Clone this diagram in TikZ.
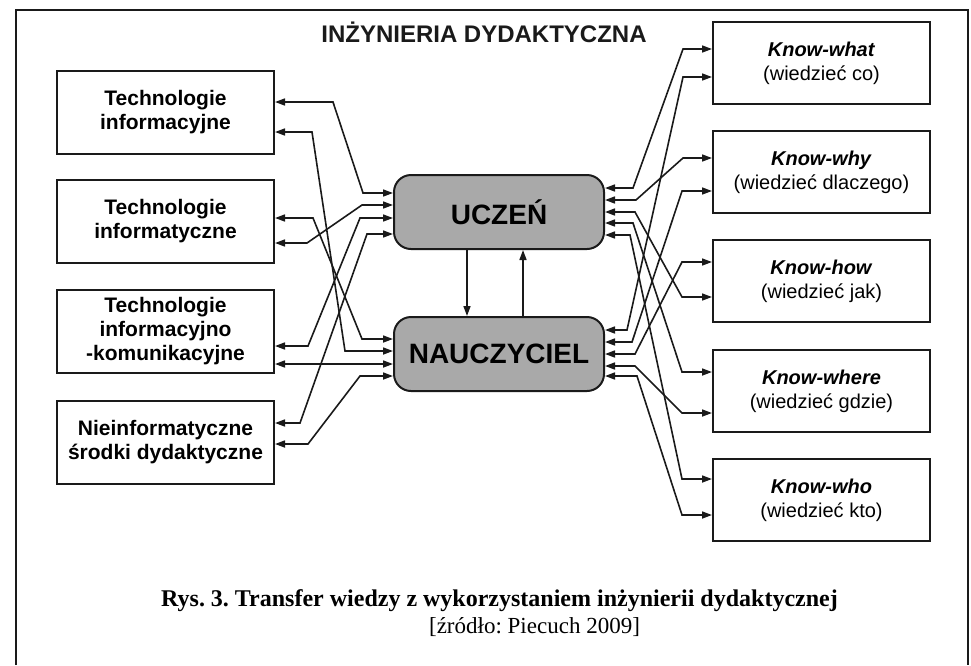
\documentclass[tikz,border=0pt]{standalone}
\usepackage{fontspec}
\setmainfont{Liberation Serif}
\setsansfont{Liberation Sans}
\usetikzlibrary{arrows.meta}
\definecolor{boxgray}{HTML}{A9A9A9}
\definecolor{inkblack}{HTML}{1A1A1A}
\frenchspacing

\begin{document}
\begin{tikzpicture}[x=1pt, y=-1pt,
  >={Triangle[length=10pt, width=7pt]},
  srcbox/.style={draw=inkblack, line width=2pt, minimum width=217pt, minimum height=83pt, align=center, font=\sffamily\bfseries\fontsize{21}{24}\selectfont},
  knowbox/.style={draw=inkblack, line width=2pt, minimum width=217pt, minimum height=82pt, align=center, font=\sffamily\fontsize{20}{24}\selectfont},
  actor/.style={draw=inkblack, line width=2pt, fill=boxgray, rounded corners=17pt, minimum width=210pt, minimum height=74pt, font=\sffamily\bfseries\fontsize{28}{30}\selectfont},
  link/.style={draw=inkblack, line width=1.6pt, <->},
  flow/.style={draw=inkblack, line width=1.6pt, ->}]

  \useasboundingbox (0,0) rectangle (971,665);

  % Outer frame (its bottom edge lies below the page)
  \draw[inkblack, line width=2.2pt] (16,665) -- (16,10) -- (968,10) -- (968,665);

  \node[font=\sffamily\bfseries\fontsize{24}{28}\selectfont, anchor=base, text=inkblack] (title) at (484,42) {INŻYNIERIA DYDAKTYCZNA};

  % Left column: resources
  \node[srcbox] (tinf) at (165.5,112.5) {Technologie\\informacyjne};
  \node[srcbox] (tinm) at (165.5,221.5) {Technologie\\informatyczne};
  \node[srcbox] (tik)  at (165.5,331.5) {Technologie\\informacyjno\\-komunikacyjne};
  \node[srcbox] (nonit) at (165.5,442) {Nieinformatyczne\\środki dydaktyczne};

  % Centre: the two actors
  \node[actor] (uczen) at (499,212) {UCZEŃ};
  \node[actor] (naucz) at (499,354) {NAUCZYCIEL};

  % Right column: kinds of knowledge
  \node[knowbox] (kwhat)  at (821.5,63)  {\textbf{\textit{Know-what}}\\(wiedzieć co)};
  \node[knowbox] (kwhy)   at (821.5,172) {\textbf{\textit{Know-why}}\\(wiedzieć dlaczego)};
  \node[knowbox] (khow)   at (821.5,281) {\textbf{\textit{Know-how}}\\(wiedzieć jak)};
  \node[knowbox] (kwhere) at (821.5,391) {\textbf{\textit{Know-where}}\\(wiedzieć gdzie)};
  \node[knowbox] (kwho)   at (821.5,500) {\textbf{\textit{Know-who}}\\(wiedzieć kto)};

  % Between the actors
  \draw[flow] (uczen.south -| 467,0) -- (naucz.north -| 467,0);
  \draw[flow] (naucz.north -| 523,0) -- (uczen.south -| 523,0);

  % Left links
  \draw[link] (tinf.east |- 0,102) -- (333,102) -- (363,193) -- (uczen.west |- 0,193);
  \draw[link] (tinf.east |- 0,132) -- (312,132) -- (345,351) -- (naucz.west |- 0,351);
  \draw[link] (tinm.east |- 0,218) -- (313,218) -- (362,339) -- (naucz.west |- 0,339);
  \draw[link] (tinm.east |- 0,243) -- (307,243) -- (362,205) -- (uczen.west |- 0,205);
  \draw[link] (tik.east |- 0,346) -- (308,346) -- (360,218) -- (uczen.west |- 0,218);
  \draw[link] (tik.east |- 0,364) -- (naucz.west |- 0,364);
  \draw[link] (nonit.east |- 0,423) -- (300,423) -- (367,234) -- (uczen.west |- 0,234);
  \draw[link] (nonit.east |- 0,444) -- (308,444) -- (360,376) -- (naucz.west |- 0,376);

  % Right links
  \draw[link] (uczen.east |- 0,188) -- (633,188) -- (683,49) -- (kwhat.west |- 0,49);
  \draw[link] (uczen.east |- 0,200) -- (636,200) -- (683,158) -- (kwhy.west |- 0,158);
  \draw[link] (uczen.east |- 0,212) -- (635,212) -- (682,297) -- (khow.west |- 0,297);
  \draw[link] (uczen.east |- 0,223) -- (633,223) -- (682,372) -- (kwhere.west |- 0,372);
  \draw[link] (uczen.east |- 0,235) -- (630,235) -- (682,479) -- (kwho.west |- 0,479);
  \draw[link] (naucz.east |- 0,330) -- (627,330) -- (683,77) -- (kwhat.west |- 0,77);
  \draw[link] (naucz.east |- 0,342) -- (632,342) -- (682,191) -- (kwhy.west |- 0,191);
  \draw[link] (naucz.east |- 0,354) -- (635,354) -- (682,262) -- (khow.west |- 0,262);
  \draw[link] (naucz.east |- 0,366) -- (635,366) -- (682,413) -- (kwhere.west |- 0,413);
  \draw[link] (naucz.east |- 0,376) -- (637,376) -- (682,515) -- (kwho.west |- 0,515);

  % Caption
  \node[anchor=base, font=\bfseries\fontsize{24}{26}\selectfont] (caption) at (499.5,606) {Rys. 3. Transfer wiedzy z wykorzystaniem inżynierii dydaktycznej};
  \node[anchor=base, font=\fontsize{23}{26}\selectfont] (source) at (534.5,633) {[źródło: Piecuch 2009]};

\end{tikzpicture}
\end{document}
